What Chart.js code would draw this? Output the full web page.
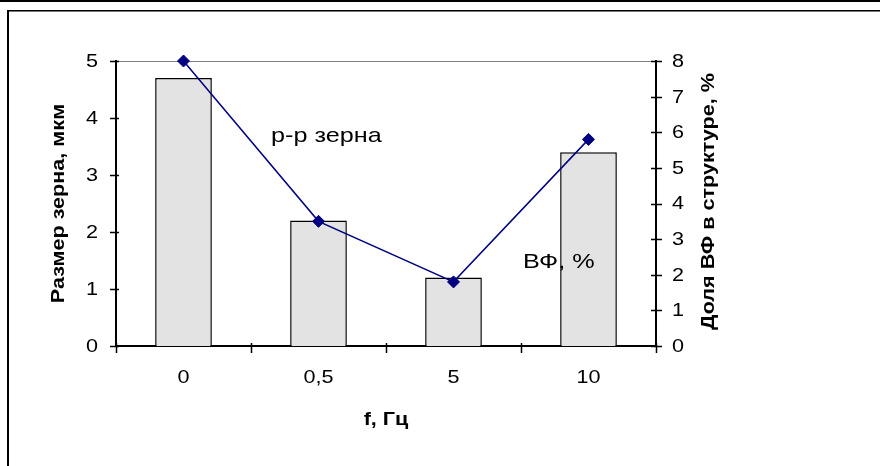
<!DOCTYPE html>
<html lang="ru">
<head>
<meta charset="utf-8">
<script src="https://cdn.jsdelivr.net/npm/chart.js@4/dist/chart.umd.min.js"></script>
<style>
    html, body { margin: 0; padding: 0; background: #fff; }
    #wrap { position: relative; width: 880px; height: 466px; overflow: hidden; }
    #grainChart { position: absolute; left: 0; top: 0; }
    .topRule { position: absolute; left: 0; top: 0; width: 880px; height: 2px; background: #000; }
    .frame { position: absolute; left: 7px; top: 10px; width: 900px; height: 500px;
             border-left: 2px solid #000; border-top: 1px solid #000; box-shadow: inset 0 1px 0 #777; }
</style>
</head>
<body>
<div id="wrap">
    <div class="topRule"></div>
    <div class="frame"></div>
    <canvas id="grainChart" width="880" height="466"></canvas>
</div>
<script>
const frequencies = ['0', '0,5', '5', '10'];
const grainSize = [4.7, 2.2, 1.2, 3.4];      // мкм, left axis
const phaseShare = [8, 3.5, 1.8, 5.8];       // %, right axis
const leftTicks = [0, 1, 2, 3, 4, 5];
const rightTicks = [0, 1, 2, 3, 4, 5, 6, 7, 8];

const FONT = '"Liberation Sans", Arial, sans-serif';
const STRETCH = 1.2;   // text is drawn a bit wider than the font's natural width

// draws one label, widened along its own direction
const wideText = (ctx, text, x, y, opts) => {
    ctx.save();
    ctx.translate(x, y);
    if (opts.rotate) ctx.rotate(opts.rotate);
    ctx.scale(STRETCH, 1);
    ctx.font = opts.font;
    ctx.textAlign = opts.align || 'left';
    ctx.textBaseline = opts.baseline || 'alphabetic';
    ctx.fillStyle = '#000';
    ctx.fillText(text, 0, 0);
    ctx.restore();
};

// Axis titles, tick labels, crossing tick marks, free labels and the top plot line
const decorations = {
    id: 'decorations',
    beforeDatasetsDraw(chart) {
        const { ctx, chartArea: a } = chart;
        ctx.save();
        ctx.strokeStyle = '#808080';
        ctx.lineWidth = 1;
        ctx.beginPath();
        ctx.moveTo(a.left, a.top + 0.5);
        ctx.lineTo(a.right, a.top + 0.5);
        ctx.stroke();
        ctx.restore();
    },
    afterDraw(chart) {
        const { ctx, chartArea: a, scales } = chart;
        const tickFont = '18px ' + FONT;
        const titleFont = 'bold 18px ' + FONT;

        ctx.save();
        ctx.strokeStyle = '#000';
        ctx.lineWidth = 1.5;
        ctx.beginPath();
        leftTicks.forEach(v => {
            const y = Math.round(scales.y.getPixelForValue(v)) + 0.5;
            ctx.moveTo(a.left - 6, y);
            ctx.lineTo(a.left + 3, y);
        });
        rightTicks.forEach(v => {
            const y = Math.round(scales.y2.getPixelForValue(v)) + 0.5;
            ctx.moveTo(a.right - 5, y);
            ctx.lineTo(a.right + 6, y);
        });
        const step = (a.right - a.left) / frequencies.length;
        for (let i = 0; i <= frequencies.length; i++) {
            const x = Math.round(a.left + i * step) + 0.5;
            ctx.moveTo(x, a.bottom - 3);
            ctx.lineTo(x, a.bottom + 7);
        }
        ctx.stroke();
        ctx.restore();

        // tick labels
        leftTicks.forEach(v => {
            wideText(ctx, String(v), a.left - 18, scales.y.getPixelForValue(v) + 1,
                { font: tickFont, align: 'right', baseline: 'middle' });
        });
        rightTicks.forEach(v => {
            wideText(ctx, String(v), a.right + 16, scales.y2.getPixelForValue(v) + 1,
                { font: tickFont, align: 'left', baseline: 'middle' });
        });
        frequencies.forEach((f, i) => {
            wideText(ctx, f, scales.x.getPixelForValue(i), a.bottom + 37,
                { font: tickFont, align: 'center' });
        });

        // axis titles
        const midY = (a.top + a.bottom) / 2;
        wideText(ctx, 'Размер зерна, мкм', a.left - 52, midY,
            { font: titleFont, align: 'center', rotate: -Math.PI / 2 });
        wideText(ctx, 'Доля ВФ в структуре, %', a.right + 58, midY - 2,
            { font: titleFont, align: 'center', rotate: -Math.PI / 2 });
        wideText(ctx, 'f, Гц', (a.left + a.right) / 2, a.bottom + 79,
            { font: titleFont, align: 'center' });

        // series captions inside the plot
        const captionFont = '21px ' + FONT;
        wideText(ctx, 'р-р зерна', a.left + 155, a.top + 81, { font: captionFont });
        wideText(ctx, 'ВФ, %', a.left + 407, a.top + 207, { font: captionFont });
    }
};

const ctx = document.getElementById('grainChart').getContext('2d');

new Chart(ctx, {
    data: {
        labels: frequencies,
        datasets: [
            {
                type: 'line',
                label: 'Доля ВФ',
                data: phaseShare,
                yAxisID: 'y2',
                borderColor: '#000080',
                backgroundColor: '#000080',
                borderWidth: 1.5,
                pointStyle: 'rectRot',
                pointRadius: 6,
                pointBorderWidth: 1,
                tension: 0,
                clip: false,
                order: 1
            },
            {
                type: 'bar',
                label: 'Размер зерна',
                data: grainSize,
                yAxisID: 'y',
                backgroundColor: '#e3e3e3',
                borderColor: '#000',
                borderWidth: 1.5,
                barPercentage: 0.42,
                categoryPercentage: 1,
                order: 2
            }
        ]
    },
    options: {
        responsive: false,
        animation: false,
        devicePixelRatio: 1,
        layout: { padding: { top: 61, left: 0, right: 0, bottom: 0 } },
        plugins: {
            legend: { display: false },
            tooltip: { enabled: false }
        },
        scales: {
            x: {
                grid: { display: false, drawTicks: false },
                border: { color: '#000', width: 2 },
                ticks: { display: false },
                afterFit: s => { s.height = 120; }
            },
            y: {
                position: 'left',
                min: 0,
                max: 5,
                grid: { display: false, drawTicks: false },
                border: { color: '#000', width: 2 },
                ticks: { display: false, stepSize: 1 },
                afterFit: s => { s.width = 116; }
            },
            y2: {
                position: 'right',
                min: 0,
                max: 8,
                grid: { display: false, drawTicks: false },
                border: { color: '#000', width: 2 },
                ticks: { display: false, stepSize: 1 },
                afterFit: s => { s.width = 224; }
            }
        }
    },
    plugins: [decorations]
});
</script>
</body>
</html>
